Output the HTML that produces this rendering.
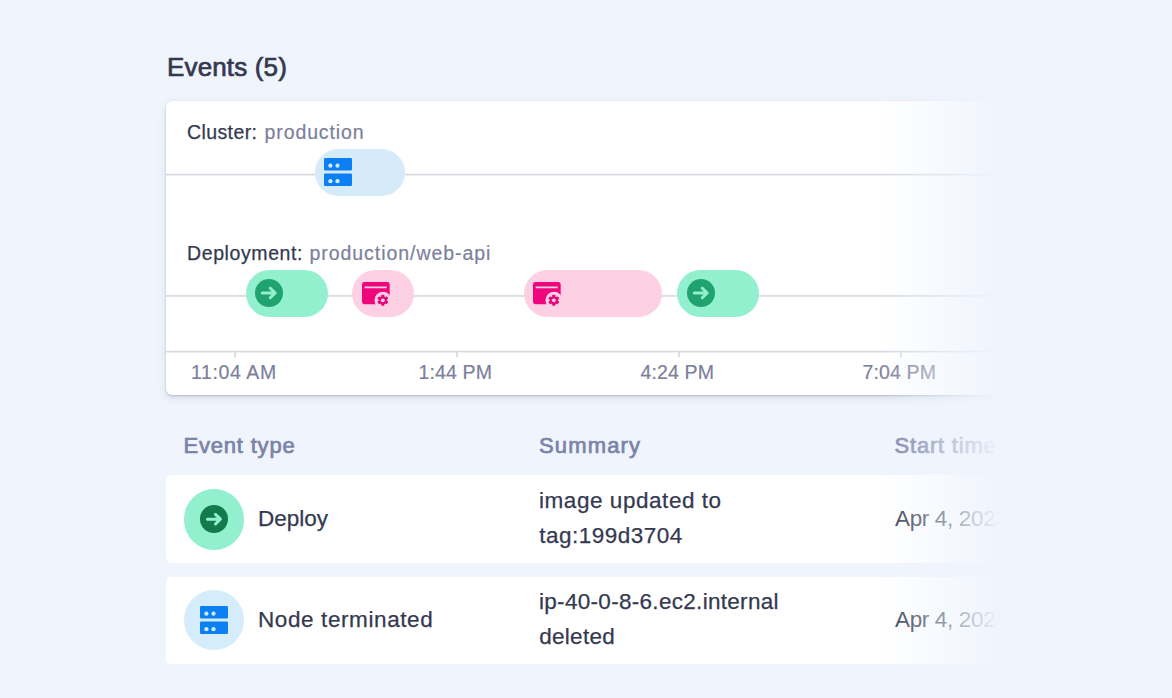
<!DOCTYPE html>
<html><head><meta charset="utf-8">
<style>
*{box-sizing:border-box;margin:0;padding:0}
html,body{width:1172px;height:698px;overflow:hidden}
body{background:#eff4fd;font-family:"Liberation Sans",sans-serif;position:relative;color:#32374f}
.t{position:absolute;white-space:nowrap;line-height:1;transform-origin:0 0}
.dark{color:#343950;-webkit-text-stroke:.25px #343950}
.mut{color:#7b809d;-webkit-text-stroke:.2px #7b809d}
.hdr{color:#7a84a8;-webkit-text-stroke:.7px #7a84a8;letter-spacing:.6px}
#card{position:absolute;left:166px;top:101px;width:901px;height:294px;background:#fff;border-radius:6px;box-shadow:0 1px 2px rgba(65,68,90,.25),0 3px 8px rgba(65,68,90,.13)}
.hl{position:absolute;left:166px;width:901px;height:3px;background:linear-gradient(to bottom,#f7f7fa 0,#f7f7fa 1px,#d9dae1 1px,#d9dae1 2px,#eeeef2 2px,#eeeef2 3px)}
.tick{position:absolute;width:2px;height:5px;background:#dedfe6;top:352px;box-shadow:0 1px 0 #f0f0f4}
.pill{position:absolute;height:47px;border-radius:24px}
.row{position:absolute;left:166px;width:901px;height:87px;background:#fff;border-radius:5px}
.circ{position:absolute;border-radius:50%}
svg{position:absolute;overflow:visible}
#fade{position:absolute;left:880px;top:0;width:292px;height:698px;background:linear-gradient(to right,rgba(239,244,253,0) 0px,rgba(239,244,253,1) 120px,rgba(239,244,253,1) 100%)}
</style></head><body>

<div class="t dark" id="title" style="left:167px;top:53.7px;font-size:26px;-webkit-text-stroke:0.7px #33384f;letter-spacing:.15px">Events (5)</div>

<div id="card"></div>

<div class="t dark" id="l1a" style="left:187px;top:122.5px;font-size:19.5px;letter-spacing:.4px">Cluster:</div>
<div class="t mut" id="l1b" style="left:264.5px;top:122.5px;font-size:19.5px;letter-spacing:.9px">production</div>
<div class="hl" style="top:173px"></div>
<div class="pill" style="left:315px;top:149px;width:90px;background:#d5ebfa"></div>
<svg id="srv1" style="left:324px;top:158px" width="28" height="28" viewBox="0 0 28 28">
  <rect x="0" y="0" width="28" height="12.4" rx="1.2" fill="#0c7ff2"/>
  <rect x="0" y="15.5" width="28" height="12.4" rx="1.2" fill="#0c7ff2"/>
  <circle cx="6.4" cy="7.7" r="2.1" fill="#cfeeff"/><circle cx="13.5" cy="7.7" r="2.1" fill="#cfeeff"/>
  <circle cx="6.4" cy="23.2" r="2.1" fill="#cfeeff"/><circle cx="13.5" cy="23.2" r="2.1" fill="#cfeeff"/>
</svg>

<div class="t dark" id="l2a" style="left:187px;top:244px;font-size:19.5px;letter-spacing:.6px">Deployment:</div>
<div class="t mut" id="l2b" style="left:309.5px;top:244px;font-size:19.5px;letter-spacing:.95px">production/web-api</div>
<div class="hl" style="top:294px;background:linear-gradient(to bottom,#fbfbfc 0,#fbfbfc 1px,#dddee3 1px,#dddee3 2px,#e1e2e7 2px,#e1e2e7 3px)"></div>

<div class="pill" style="left:246px;top:270px;width:82px;background:#93f0cf"></div>
<div class="circ" style="left:254.9px;top:279.3px;width:28px;height:28px;background:#21a36f"></div>
<svg style="left:254.9px;top:279.3px" width="28" height="28" viewBox="0 0 28 28"><path d="M7.3 14H20M15.3 9.2L20.2 14L15.3 18.8" fill="none" stroke="#93f0cf" stroke-width="3" stroke-linecap="round" stroke-linejoin="round"/></svg>

<div class="pill" style="left:352px;top:270px;width:62px;background:#fdd0e4"></div>
<svg class="gear" style="left:361.6px;top:282.2px" width="32" height="30" viewBox="0 0 32 30">
  <rect x="0" y="0" width="27.7" height="22.2" rx="2.4" fill="#ef067d"/>
  <rect x="2.6" y="4.5" width="22.2" height="1.8" rx=".5" fill="#fdd0e4"/>
  <circle cx="21" cy="18.3" r="8.5" fill="#fdd0e4"/>
  <g transform="translate(20.8 18.3)" fill="#e4067a">
    <circle r="3.9"/>
    <rect x="-1.6" y="-5.5" width="3.2" height="11" rx=".7"/>
    <rect x="-1.6" y="-5.5" width="3.2" height="11" rx=".7" transform="rotate(60)"/>
    <rect x="-1.6" y="-5.5" width="3.2" height="11" rx=".7" transform="rotate(120)"/>
    <circle r="1.9" fill="#fdd0e4"/>
  </g>
</svg>

<div class="pill" style="left:524px;top:270px;width:138px;background:#fdd0e4"></div>
<svg class="gear" style="left:533.2px;top:282.2px" width="32" height="30" viewBox="0 0 32 30">
  <rect x="0" y="0" width="27.7" height="22.2" rx="2.4" fill="#ef067d"/>
  <rect x="2.6" y="4.5" width="22.2" height="1.8" rx=".5" fill="#fdd0e4"/>
  <circle cx="21" cy="18.3" r="8.5" fill="#fdd0e4"/>
  <g transform="translate(20.8 18.3)" fill="#e4067a">
    <circle r="3.9"/>
    <rect x="-1.6" y="-5.5" width="3.2" height="11" rx=".7"/>
    <rect x="-1.6" y="-5.5" width="3.2" height="11" rx=".7" transform="rotate(60)"/>
    <rect x="-1.6" y="-5.5" width="3.2" height="11" rx=".7" transform="rotate(120)"/>
    <circle r="1.9" fill="#fdd0e4"/>
  </g>
</svg>

<div class="pill" style="left:677px;top:270px;width:82px;background:#93f0cf"></div>
<div class="circ" style="left:686.5px;top:279.3px;width:28px;height:28px;background:#21a36f"></div>
<svg style="left:686.5px;top:279.3px" width="28" height="28" viewBox="0 0 28 28"><path d="M7.3 14H20M15.3 9.2L20.2 14L15.3 18.8" fill="none" stroke="#93f0cf" stroke-width="3" stroke-linecap="round" stroke-linejoin="round"/></svg>

<div class="hl" style="top:350px"></div>
<div class="tick" style="left:234px"></div>
<div class="tick" style="left:456px"></div>
<div class="tick" style="left:678px"></div>
<div class="tick" style="left:900px"></div>
<div class="t mut" id="tm1" style="left:191px;top:362.8px;font-size:19.5px;letter-spacing:.6px">11:04 AM</div>
<div class="t mut" id="tm2" style="left:418.5px;top:362.8px;font-size:19.5px;letter-spacing:.15px">1:44 PM</div>
<div class="t mut" id="tm3" style="left:640.5px;top:362.8px;font-size:19.5px;letter-spacing:.15px">4:24 PM</div>
<div class="t mut" id="tm4" style="left:862.5px;top:362.8px;font-size:19.5px;letter-spacing:.15px">7:04 PM</div>

<div class="t hdr" id="h1" style="left:183.5px;top:435px;font-size:22px;letter-spacing:.8px">Event type</div>
<div class="t hdr" id="h2" style="left:539px;top:435px;font-size:22px;letter-spacing:1.15px">Summary</div>
<div class="t hdr" id="h3" style="left:894.5px;top:435px;font-size:22px;letter-spacing:.8px">Start time</div>

<div class="row" style="top:475px;height:88px"></div>
<div class="circ" style="left:183.6px;top:489.2px;width:60.4px;height:60.4px;background:#93f0cf"></div>
<div class="circ" style="left:199.7px;top:505.1px;width:28.3px;height:28.3px;background:#127a4b"></div>
<svg style="left:199.7px;top:505.1px" width="28.3" height="28.3" viewBox="0 0 28 28"><path d="M7.3 14H20M15.3 9.2L20.2 14L15.3 18.8" fill="none" stroke="#93f0cf" stroke-width="3" stroke-linecap="round" stroke-linejoin="round"/></svg>
<div class="t dark" id="r1a" style="left:258px;top:507.6px;font-size:22.5px">Deploy</div>
<div class="t dark" id="r1b" style="left:539px;top:490px;font-size:22.5px;letter-spacing:.55px">image updated to</div>
<div class="t dark" id="r1c" style="left:539.2px;top:525.4px;font-size:22.5px;letter-spacing:.5px">tag:199d3704</div>
<div class="t" id="r1d" style="left:895px;top:507.5px;font-size:22.5px;color:#33384f;letter-spacing:-.35px">Apr 4, 2023</div>

<div class="row" style="top:577px"></div>
<div class="circ" style="left:183.6px;top:590px;width:60.4px;height:60.4px;background:#d4ecfb"></div>
<svg id="srv2" style="left:199.5px;top:606.3px" width="28" height="28" viewBox="0 0 28 28">
  <rect x="0" y="0" width="28" height="12.4" rx="1.2" fill="#0c7ff2"/>
  <rect x="0" y="15.5" width="28" height="12.4" rx="1.2" fill="#0c7ff2"/>
  <circle cx="6.4" cy="7.7" r="2.1" fill="#cfeeff"/><circle cx="13.5" cy="7.7" r="2.1" fill="#cfeeff"/>
  <circle cx="6.4" cy="23.2" r="2.1" fill="#cfeeff"/><circle cx="13.5" cy="23.2" r="2.1" fill="#cfeeff"/>
</svg>
<div class="t dark" id="r2a" style="left:258px;top:608.9px;font-size:22.5px;letter-spacing:.6px">Node terminated</div>
<div class="t dark" id="r2b" style="left:539px;top:591.2px;font-size:22.5px;letter-spacing:.3px">ip-40-0-8-6.ec2.internal</div>
<div class="t dark" id="r2c" style="left:539.2px;top:626.3px;font-size:22.5px;letter-spacing:.3px">deleted</div>
<div class="t" id="r2d" style="left:895px;top:608.7px;font-size:22.5px;color:#33384f;letter-spacing:-.35px">Apr 4, 2023</div>

<div id="fade"></div>
</body></html>
